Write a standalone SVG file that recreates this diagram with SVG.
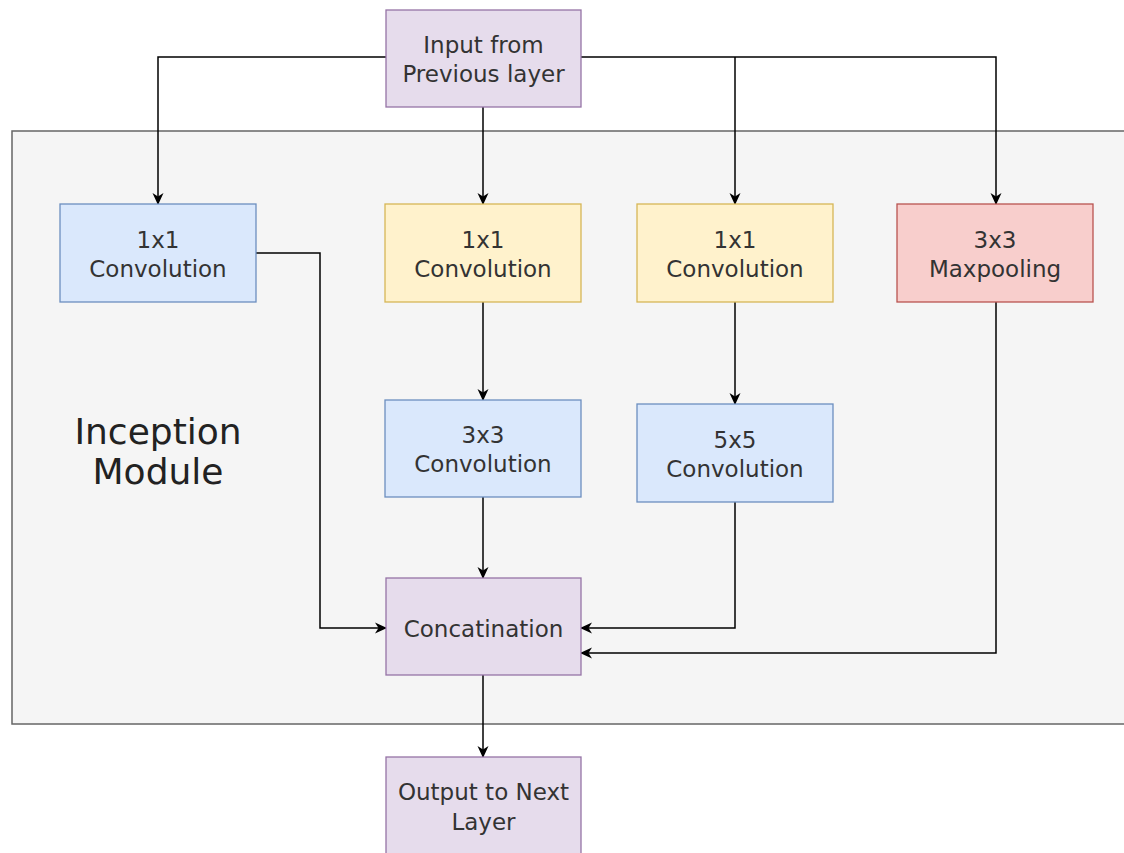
<svg xmlns="http://www.w3.org/2000/svg" width="1124" height="853" viewBox="0 0 1124 853">
<defs>
<marker id="ah" markerWidth="12" markerHeight="12" refX="11" refY="6" orient="auto" markerUnits="userSpaceOnUse">
<path d="M0,0.5 L12,6 L0,11.5 L3.5,6 Z" fill="#000"/>
</marker>
<style>
.t{font-family:"DejaVu Sans",Verdana,sans-serif;font-size:23px;fill:#333;text-anchor:middle}
.big{font-family:"DejaVu Sans",Verdana,sans-serif;font-size:36px;fill:#222;text-anchor:middle}
.purple{fill:#e6dcec;stroke:#9673a6;stroke-width:1.3}
.blue{fill:#dae8fc;stroke:#6c8ebf;stroke-width:1.3}
.yellow{fill:#fff2cc;stroke:#d6b656;stroke-width:1.3}
.red{fill:#f8cecc;stroke:#b85450;stroke-width:1.3}
.c{fill:none;stroke:#000;stroke-width:1.5;marker-end:url(#ah)}
</style>
</defs>
<rect width="1124" height="853" fill="#fff"/>
<g id="module">
<rect x="12" y="131" width="1120" height="593" fill="#f5f5f5" stroke="#666" stroke-width="1.5"/>
<text class="big" x="158" y="444">Inception</text>
<text class="big" x="158" y="484">Module</text>
</g>
<g id="connectors">
<path class="c" d="M386,57 H158 V204"/>
<path class="c" d="M581,57 H996 V204"/>
<path class="c" d="M735,57 V204"/>
<path class="c" d="M483,107 V204"/>
<path class="c" d="M256,253 H320 V628 H386"/>
<path class="c" d="M483,302 V400"/>
<path class="c" d="M735,302 V404"/>
<path class="c" d="M483,497 V578"/>
<path class="c" d="M735,502 V628 H581"/>
<path class="c" d="M996,302 V653 H581"/>
<path class="c" d="M483,675 V757"/>
</g>
<g id="input">
<rect class="purple" x="386" y="10" width="195" height="97"/>
<text class="t" x="483.5" y="53">Input from</text>
<text class="t" x="483.5" y="82">Previous layer</text>
</g>
<g id="conv1x1a">
<rect class="blue" x="60" y="204" width="196" height="98"/>
<text class="t" x="158" y="248">1x1</text>
<text class="t" x="158" y="277">Convolution</text>
</g>
<g id="conv1x1b">
<rect class="yellow" x="385" y="204" width="196" height="98"/>
<text class="t" x="483" y="248">1x1</text>
<text class="t" x="483" y="277">Convolution</text>
</g>
<g id="conv1x1c">
<rect class="yellow" x="637" y="204" width="196" height="98"/>
<text class="t" x="735" y="248">1x1</text>
<text class="t" x="735" y="277">Convolution</text>
</g>
<g id="maxpool">
<rect class="red" x="897" y="204" width="196" height="98"/>
<text class="t" x="995" y="248">3x3</text>
<text class="t" x="995" y="277">Maxpooling</text>
</g>
<g id="conv3x3">
<rect class="blue" x="385" y="400" width="196" height="97"/>
<text class="t" x="483" y="443">3x3</text>
<text class="t" x="483" y="472">Convolution</text>
</g>
<g id="conv5x5">
<rect class="blue" x="637" y="404" width="196" height="98"/>
<text class="t" x="735" y="448">5x5</text>
<text class="t" x="735" y="477">Convolution</text>
</g>
<g id="concat">
<rect class="purple" x="386" y="578" width="195" height="97"/>
<text class="t" x="483.5" y="637">Concatination</text>
</g>
<g id="output">
<rect class="purple" x="386" y="757" width="195" height="110"/>
<text class="t" x="483.5" y="800">Output to Next</text>
<text class="t" x="483.5" y="830">Layer</text>
</g>
</svg>
